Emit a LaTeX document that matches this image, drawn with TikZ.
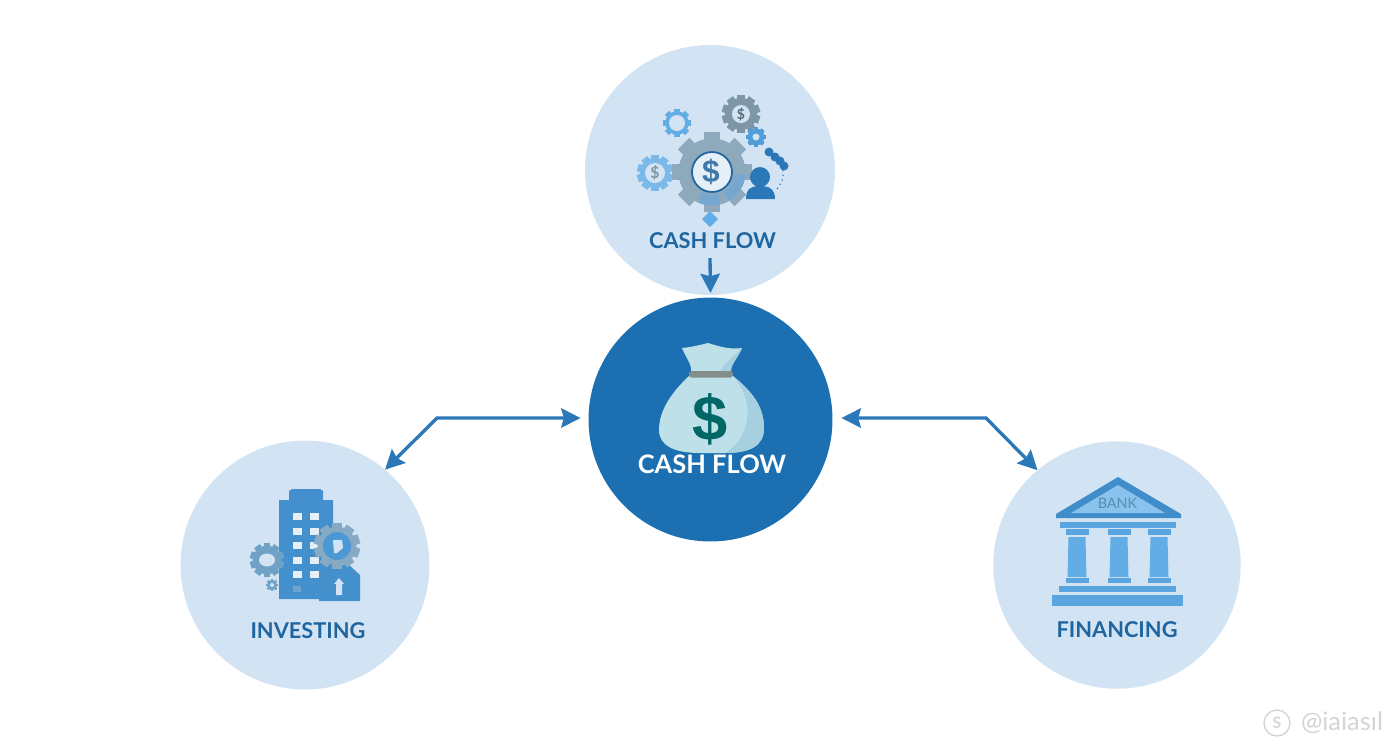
\documentclass[tikz,border=0pt]{standalone}
\usepackage{fontspec}
\setmainfont{Lato}
\newfontfamily\dollarfont{Liberation Sans}
\usetikzlibrary{arrows.meta}
\definecolor{pale}{HTML}{D2E4F3}
\definecolor{deep}{HTML}{1C6FB0}
\definecolor{ink}{HTML}{1F659F}
\definecolor{flow}{HTML}{2B78B8}
\definecolor{sky}{HTML}{62ADE6}
\definecolor{steel}{HTML}{8FA9BC}
\definecolor{slate}{HTML}{7F95A8}
\definecolor{bag}{HTML}{BEE0E8}
\definecolor{bagshade}{HTML}{A6CFE0}
\definecolor{wmgray}{HTML}{D4D4D4}
\tikzset{
  disc/.style={circle,fill=pale,minimum size=#1,inner sep=0pt,outer sep=0pt},
  title/.style={font=\fontsize{12.4}{14}\selectfont\bfseries,text=ink,inner sep=0pt},
  link/.style={draw=flow,line width=1.9pt,{Stealth[length=11pt,width=11pt,inset=1.5pt]}-{Stealth[length=11pt,width=11pt,inset=1.5pt]}},
  linkdown/.style={draw=flow,line width=1.9pt,-{Stealth[length=11pt,width=11pt,inset=1.5pt]}}
}
% centre x, centre y, radius, colour, teeth
\newcommand{\gearicon}[5]{
  \foreach \i in {1,...,#5}
    \fill[#4,rotate around={360*\i/#5:(#1,#2)}] (#1-#3*.2,#2-#3) rectangle (#1+#3*.2,#2+#3);
  \fill[#4] (#1,#2) circle[radius=#3*.84];
}
\begin{document}
\begin{tikzpicture}[x=0.02cm,y=-0.02cm]
\useasboundingbox (0,0) rectangle (1392,752);

% circles
\node[disc=5cm] (opcircle) at (710,170) {};
\node[disc=4.88cm,fill=deep] (main) at (710.5,419.5) {};
\node[disc=4.98cm] (invcircle) at (305,565) {};
\node[disc=4.95cm] (fincircle) at (1117,565) {};

% operating icon
\gearicon{677}{123}{14}{sky}{8}
\fill[pale] (677,123) circle[radius=8];
\gearicon{741}{114}{19}{slate}{10}
\fill[pale] (741,114) circle[radius=9];
\node[font=\fontsize{8}{8}\selectfont\bfseries,text=slate!70!black,inner sep=0pt] (opthree) at (741,114) {\$};
\gearicon{756}{137}{10}{sky!70!flow}{8}
\fill[pale] (756,137) circle[radius=3.5];
\gearicon{655}{173}{18}{sky!85!white}{10}
\fill[pale] (655,173) circle[radius=10];
\node[font=\fontsize{9}{9}\selectfont\bfseries,text=slate,inner sep=0pt] (opleft) at (655,173) {\$};
\gearicon{712}{172}{40}{steel}{8}
\draw[flow!65!white,line width=6pt] (712,172) ++(5:28) arc[start angle=5,end angle=60,radius=28];
\draw[flow!65!white,line width=6pt] (712,172) ++(75:28) arc[start angle=75,end angle=115,radius=28];
\fill[pale!60!white,draw=ink,line width=1pt] (712,172) circle[radius=20];
\node[font=\dollarfont\fontsize{18}{18}\selectfont\bfseries,text=ink!70!steel,inner sep=0pt] (opdollar) at (711,172) {\$};
\fill[flow] (760,177) circle[radius=10];
\fill[flow] (746,199) .. controls (746,188) and (752,186) .. (760,186) .. controls (768,186) and (775,188) .. (775,199) -- cycle;
\foreach \cx/\cy in {769/152,775/157,780/161,784/166}
  \fill[flow] (\cx,\cy) circle[radius=4.5];
\draw[flow,line width=.7pt,dotted] (783,170) .. controls (784,180) and (780,186) .. (775,191);
\fill[sky] (710,211) -- (718,219) -- (710,227) -- (702,219) -- cycle;

% bag icon
\fill[bag] (689,376) .. controls (672,392) and (659,410) .. (659,430) .. controls (659,446) and (675,453) .. (700,453) -- (725,453) .. controls (750,453) and (764,446) .. (764,428) .. controls (764,405) and (750,390) .. (733,376) -- cycle;
\fill[bagshade] (733,376) .. controls (750,390) and (764,405) .. (764,428) .. controls (764,446) and (750,453) .. (725,453) .. controls (748,440) and (758,405) .. (733,376) -- cycle;
\fill[bag] (682,348) .. controls (692,347) and (700,345) .. (708,343) .. controls (718,346) and (730,350) .. (742,348) .. controls (738,358) and (730,365) .. (731,372) -- (691,372) .. controls (692,364) and (686,358) .. (682,348) -- cycle;
\fill[bagshade] (742,348) .. controls (738,358) and (730,365) .. (731,372) -- (720,372) .. controls (722,365) and (732,358) .. (742,348) -- cycle;
\fill[rounded corners=1.5pt,fill=black!30!bagshade!80!brown] (689,371) rectangle (733,377.5);
\node[font=\dollarfont\fontsize{36}{36}\selectfont\bfseries,text=teal!80!black,inner sep=0pt] (bagdollar) at (710.5,419) {\$};

% building icon
\fill[flow!55!sky] (292,489) -- (320,489) -- (323,491) -- (323,500) -- (333,500) -- (333,599) -- (279,599) -- (279,500) -- (289,500) -- (289,491) -- cycle;
\foreach \wy in {516,531,545,560,574} {
  \fill[pale!60!white] (292.5,\wy-3.5) rectangle (301.5,\wy+3.5);
  \fill[pale!60!white] (310,\wy-3.5) rectangle (319,\wy+3.5);
}
\fill[sky!60!slate] (293,586) rectangle (301,592);
\fill[flow!55!sky] (319,575) -- (347,563) -- (360,575) -- (360,601) -- (319,601) -- cycle;
\fill[pale] (339,578) -- (344,584) -- (342,584) -- (342,595) -- (336,595) -- (336,584) -- (334,584) -- cycle;
\gearicon{337}{546}{23}{steel!80!sky}{10}
\fill[sky!60!flow] (337,546) circle[radius=14];
\fill[pale] (333,540) -- (342,540) -- (343,548) -- (337,553) -- (334,553) -- cycle;
\gearicon{267}{560}{17}{sky!50!slate}{10}
\fill[pale] (267,560) ellipse[x radius=8,y radius=6.5];
\gearicon{272}{585}{6}{sky!50!slate}{8}
\fill[pale] (272,585) circle[radius=2];

% bank icon
\fill[flow!60!sky] (1118,477) -- (1181,514) -- (1181,518) -- (1056,518) -- (1056,514) -- cycle;
\fill[sky!75!white] (1118,485) -- (1165,513) -- (1071,513) -- cycle;
\node[font=\fontsize{8.2}{9}\selectfont,text=ink!75!white,inner sep=0pt] (banklabel) at (1117.5,503) {BANK};
\fill[sky!85!flow] (1060,522) rectangle (1176,527.5);
\foreach \cx in {1077,1119,1159} {
  \fill[sky!85!flow] (\cx-11.5,529) rectangle (\cx+11.5,535);
  \fill[sky] (\cx-8.5,537) -- (\cx+8.5,537) -- (\cx+9.5,577) -- (\cx-9.5,577) -- cycle;
  \fill[sky!85!flow] (\cx-11.5,578) rectangle (\cx+11.5,583);
}
\fill[sky!85!flow] (1059,586) rectangle (1176,592);
\fill[sky!85!flow] (1052,595) rectangle (1183,606);

% labels
\node[title] (optext) at (712.5,240.5) {CASH FLOW};
\node[title,text=white,font=\fontsize{14.5}{16}\selectfont\bfseries] (maintext) at (712,464) {CASH FLOW};
\node[title] (invtext) at (308,630.5) {INVESTING};
\node[title] (fintext) at (1117,629.5) {FINANCING};

% bends and free ends
\coordinate (opstart) at (710,258);
\coordinate (bendl) at (437,418);
\coordinate (bendr) at (986,418);

% arrows
\draw[linkdown,shorten >=0.09cm] (opstart) -- (main.north);
\draw[link,shorten >=0.16cm] (invcircle.50) -- (bendl) -- (bendl -| main.west);
\draw[link,shorten >=0.18cm] (fincircle.130) -- (bendr) -- (bendr -| main.east);

% watermark
\draw[wmgray,line width=.8pt] (1277,723) circle[radius=13];
\node[font=\fontsize{9}{9}\selectfont\bfseries,text=wmgray,inner sep=0pt] (marks) at (1277,723) {S};
\node[font=\fontsize{14.5}{15}\selectfont,text=wmgray,inner sep=0pt] (marktext) at (1342,723) {@iaiasıl};
\end{tikzpicture}
\end{document}
